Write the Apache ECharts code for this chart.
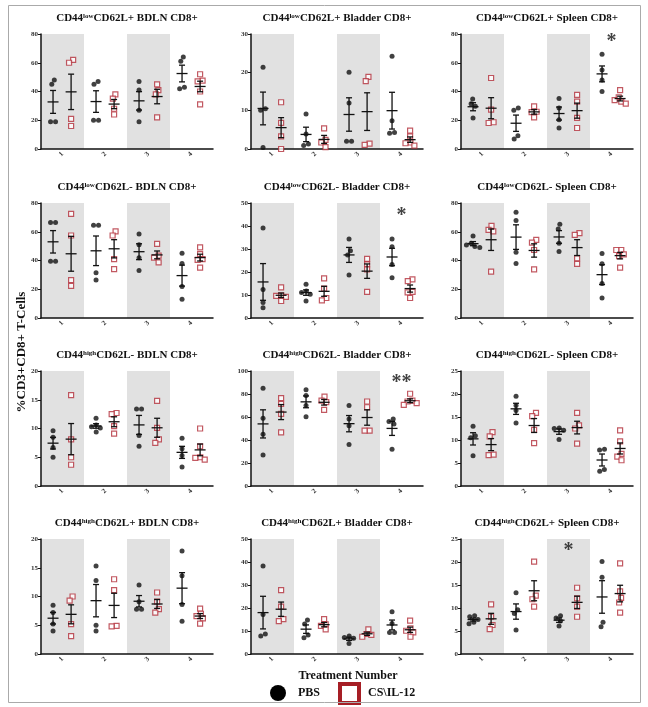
<!DOCTYPE html>
<html lang="en" style="height: 100%">
<head>
  <meta charset="utf-8">
</head>
<body style="height: 100%; margin: 0">
  <div id="container" style="width: 648px; height: 707px"></div>

  <script type="text/javascript" src="https://cdn.jsdelivr.net/npm/echarts@6/dist/echarts.min.js"></script>

  <script type="text/javascript">
    // panel titles: [before superscript, superscript, after]
    var titles = [
      ['CD44', 'low', 'CD62L+ BDLN CD8+'],
      ['CD44', 'low', 'CD62L+ Bladder CD8+'],
      ['CD44', 'low', 'CD62L+ Spleen CD8+'],
      ['CD44', 'low', 'CD62L- BDLN CD8+'],
      ['CD44', 'low', 'CD62L- Bladder CD8+'],
      ['CD44', 'low', 'CD62L- Spleen CD8+'],
      ['CD44', 'high', 'CD62L- BDLN CD8+'],
      ['CD44', 'high', 'CD62L- Bladder CD8+'],
      ['CD44', 'high', 'CD62L- Spleen CD8+'],
      ['CD44', 'high', 'CD62L+ BDLN CD8+'],
      ['CD44', 'high', 'CD62L+ Bladder CD8+'],
      ['CD44', 'high', 'CD62L+ Spleen CD8+']
    ];
    var yMax = [80, 30, 80, 80, 50, 80, 20, 100, 25, 20, 50, 25];
    var yStep = [20, 10, 20, 20, 10, 20, 5, 20, 5, 5, 10, 5];
    var treatments = ['1', '2', '3', '4'];

    // PBS values, per panel, per treatment
    var pbsValues = [
      [[48, 45, 19, 19], [47, 45, 20, 20], [47, 41, 27, 19], [64, 61, 43, 42]],
      [[21.3, 10.5, 10.1, 0.4], [9.1, 3.9, 1.3, 0.9], [20, 12, 2, 2], [24.2, 7.4, 4.3, 4.1]],
      [[34.8, 31.5, 29.7, 21.6], [28.5, 26.9, 9.3, 7], [35.2, 28.5, 20.4, 14.6], [66, 55, 48, 40]],
      [[66.5, 66.5, 39.5, 39.5], [64.5, 64.5, 31.5, 26.5], [58.5, 51, 42, 33], [45, 38, 22, 13]],
      [[39.1, 12.4, 6.7, 4.5], [14.7, 11.7, 11.1, 10.3, 7.4], [34.4, 29.2, 27.4, 18.7], [34.3, 31, 23.3, 17.5]],
      [[57.1, 52, 50.8, 49.7, 49], [73.5, 67.9, 45.7, 38], [65.3, 62, 52, 46.2], [44.8, 37.8, 24, 14]],
      [[9.6, 8.5, 6.7, 5], [11.8, 10.6, 10.3, 10.1, 9.4], [13.4, 13.4, 8.8, 6.9], [8.3, 6.5, 5.3, 3.3]],
      [[85, 59, 45, 27], [83.7, 78.7, 70, 60.3], [70, 58.3, 52.5, 36], [58.3, 56, 54, 32]],
      [[13, 10.9, 10.5, 6.6], [19.5, 17.5, 16.4, 13.7], [12.6, 12.5, 12.1, 10.1], [8, 7.8, 3.6, 3.2]],
      [[8.5, 7.2, 5.2, 4], [15.3, 12.8, 5, 4], [12, 9.1, 7.8, 7.8], [17.9, 13.6, 8.6, 5.7]],
      [[38.3, 17.2, 8.7, 7.8], [14.8, 13, 8.3, 7.1], [7.8, 7.2, 6.8, 4.6], [18.4, 13.3, 9.4, 9.4]],
      [[8.3, 8.1, 7.5, 6.9, 6.6], [13.3, 9.6, 8.8, 5.2], [8.3, 7.8, 7.2, 6.1], [20.1, 16.7, 6.9, 5.9]]
    ];

    // CS\IL-12 values, per panel, per treatment
    var csValues = [
      [[62, 60, 21, 16], [38, 35, 28, 24], [45, 41, 38, 22], [52, 47.5, 47, 40, 31]],
      [[12.2, 6.8, 3.3, 0], [5.4, 2.4, 1.7, 0.5], [18.8, 17.7, 1.4, 1.1], [4.8, 3.3, 1.7, 1.5, 0.9]],
      [[49.4, 27.4, 18.6, 18.1], [29.7, 25.9, 25.7, 22], [37.6, 32.9, 21.6, 14.6], [41, 36, 34, 33, 31.5]],
      [[72.5, 57.4, 26.4, 22.4], [60.2, 57.4, 41, 34], [51.5, 43.4, 42, 38.7], [49.2, 44.5, 41, 40.4, 35]],
      [[13.3, 9.9, 9.6, 9.2, 7.4], [17.2, 12.8, 8.7, 7.7], [25.7, 23.3, 21.1, 11.4], [16.8, 16, 11.4, 11.1, 8.7]],
      [[64.1, 61.3, 60.2, 32.2], [54.3, 52.5, 47.3, 33.8], [59, 57.8, 41.5, 37.6], [47.3, 47.3, 44.3, 43.1, 35]],
      [[15.8, 8.1, 5, 3.7], [12.7, 12.5, 10.4, 9.1], [14.8, 10.1, 8.1, 7.5], [10, 6.9, 5, 4.9, 4.6]],
      [[76.4, 71.4, 62.7, 46.6], [77.8, 74.3, 72.9, 66.2], [73.5, 68.5, 48.1, 48.1], [80.2, 74.3, 73.5, 72, 70.6]],
      [[11.7, 10.8, 6.8, 6.7], [15.9, 15.2, 12.2, 9.3], [15.9, 13.2, 12.5, 9.2], [12.1, 9.7, 7, 6.4, 5.6]],
      [[10, 9.3, 5.2, 3.1], [13, 11.1, 4.9, 4.8], [10.7, 9.1, 7.8, 7.2], [7.9, 7, 6.6, 6.2, 5.3]],
      [[27.8, 20.6, 15.2, 14.3], [15.2, 12.9, 12.2, 10.7], [10.7, 8.7, 8.3, 7.5], [14.5, 11.2, 10.1, 9.4, 7.5]],
      [[10.8, 8.1, 6.3, 5.4], [20.1, 12.7, 11.9, 10.3], [14.4, 12.1, 10.3, 8.1], [19.7, 13.6, 12.2, 11.2, 9]]
    ];

    // significance marks: panel index, treatment, height
    var starPanel = [2, 4, 7, 11];
    var starTreatment = [4, 4, 4, 3];
    var starHeight = [77, 46, 93, 23.2];
    var starText = ['*', '*', '**', '*'];

    var colLeft = [41, 251, 461];
    var rowTop = [34, 203, 371, 539];
    var gridW = 172, gridH = 115;
    var catPx = gridW / 4;
    var serif = '"Liberation Serif", "Times New Roman", serif';
    var red = '#b3303b';

    function mean(a) {
      return a.reduce(function (s, v) { return s + v; }, 0) / a.length;
    }
    function sem(a) {
      var m = mean(a);
      var ss = a.reduce(function (s, v) { return s + (v - m) * (v - m); }, 0);
      return Math.sqrt(ss / (a.length - 1)) / Math.sqrt(a.length);
    }

    // simple beeswarm: horizontal pixel offsets so markers don't overlap
    function swarm(vals, max) {
      var d = 5;
      var pts = vals.slice().sort(function (a, b) { return b - a; }).map(function (v) {
        return { v: v, y: v / max * gridH, x: 0 };
      });
      for (var i = 0; i < pts.length; i++) {
        var pt = pts[i];
        var cands = [0];
        for (var j = 0; j < i; j++) {
          var dy = Math.abs(pts[j].y - pt.y);
          if (dy < d) {
            var w = Math.sqrt(d * d - dy * dy);
            cands.push(pts[j].x - w, pts[j].x + w);
          }
        }
        cands.sort(function (a, b) { return Math.abs(a) - Math.abs(b); });
        for (var k = 0; k < cands.length; k++) {
          var ok = true;
          for (var q = 0; q < i; q++) {
            if (Math.hypot(pts[q].x - cands[k], pts[q].y - pt.y) < d - 0.01) { ok = false; break; }
          }
          if (ok) { pt.x = cands[k]; break; }
        }
      }
      // centre each run of touching points
      var start = 0;
      for (var r = 1; r <= pts.length; r++) {
        if (r === pts.length || pts[r - 1].y - pts[r].y >= d) {
          var run = pts.slice(start, r);
          var mx = mean(run.map(function (o) { return o.x; }));
          run.forEach(function (o) { o.x -= mx; });
          start = r;
        }
      }
      return pts;
    }

    function seg(x1, y1, x2, y2) {
      return { type: 'line', shape: { x1: x1, y1: y1, x2: x2, y2: y2 }, style: { stroke: '#111', lineWidth: 1.3 } };
    }

    // mean line with SEM whiskers
    function renderErr(params, api) {
      var x = api.value(0), m = api.value(1), s = api.value(2);
      var c = api.coord([x, m]);
      var hi = api.coord([x, m + s]);
      var lo = api.coord([x, Math.max(0, m - s)]);
      return {
        type: 'group',
        children: [
          seg(c[0] - 5.5, c[1], c[0] + 5.5, c[1]),
          seg(c[0], hi[1], c[0], lo[1]),
          seg(c[0] - 3, hi[1], c[0] + 3, hi[1]),
          seg(c[0] - 3, lo[1], c[0] + 3, lo[1])
        ]
      };
    }

    var dom = document.getElementById('container');
    var myChart = echarts.init(dom, null, { renderer: 'canvas' });

    var grids = [], xAxes = [], yAxes = [], titleList = [], seriesList = [];

    for (var p = 0; p < 12; p++) {
      var gLeft = colLeft[p % 3];
      var gTop = rowTop[Math.floor(p / 3)];
      grids.push({ left: gLeft, top: gTop, width: gridW, height: gridH });
      titleList.push({
        text: '{a|' + titles[p][0] + '}{s|' + titles[p][1] + '}{a|' + titles[p][2] + '}',
        left: gLeft + gridW / 2,
        top: gTop - 21,
        textAlign: 'center',
        padding: 0,
        textStyle: {
          rich: {
            a: { fontFamily: serif, fontWeight: 'bold', fontSize: 11, color: '#111' },
            s: { fontFamily: serif, fontWeight: 'bold', fontSize: 7, color: '#111', verticalAlign: 'top' }
          }
        }
      });
      xAxes.push({
        type: 'category',
        gridIndex: p,
        data: treatments,
        boundaryGap: true,
        axisLine: { lineStyle: { color: '#111', width: 1.5 } },
        axisTick: { alignWithLabel: true, length: 3, lineStyle: { color: '#111' } },
        axisLabel: { rotate: 45, fontSize: 7, fontWeight: 'bold', fontFamily: serif, color: '#333', margin: 4 },
        splitArea: { show: true, areaStyle: { color: ['#e1e1e1', 'rgba(255,255,255,0)'] } }
      });
      xAxes.push({ type: 'value', gridIndex: p, min: 0.5, max: 4.5, show: false });
      yAxes.push({
        type: 'value',
        gridIndex: p,
        min: 0,
        max: yMax[p],
        interval: yStep[p],
        axisLine: { show: true, lineStyle: { color: '#111', width: 1.5 } },
        axisTick: { show: true, length: 3, lineStyle: { color: '#111' } },
        axisLabel: { fontSize: 7, fontWeight: 'bold', fontFamily: serif, color: '#333', margin: 3 },
        splitLine: { show: false }
      });

      var pbsPts = [], csPts = [], errs = [];
      for (var t = 0; t < 4; t++) {
        var xp = t + 1 - 0.22, xc = t + 1 + 0.2;
        var sp = swarm(pbsValues[p][t], yMax[p]);
        for (var a = 0; a < sp.length; a++) pbsPts.push([xp + sp[a].x / catPx, sp[a].v]);
        var sc = swarm(csValues[p][t], yMax[p]);
        for (var b = 0; b < sc.length; b++) csPts.push([xc + sc[b].x / catPx, sc[b].v]);
        errs.push([xp, mean(pbsValues[p][t]), sem(pbsValues[p][t])]);
        errs.push([xc, mean(csValues[p][t]), sem(csValues[p][t])]);
      }

      seriesList.push({
        name: 'PBS', type: 'scatter', xAxisIndex: 2 * p + 1, yAxisIndex: p,
        symbol: 'circle', symbolSize: 5, itemStyle: { color: '#111' },
        data: pbsPts
      });
      seriesList.push({
        name: 'CS\\IL-12', type: 'scatter', xAxisIndex: 2 * p + 1, yAxisIndex: p,
        symbol: 'rect', symbolSize: 5,
        itemStyle: { color: '#fff', borderColor: red, borderWidth: 1.2 },
        data: csPts
      });
      seriesList.push({
        type: 'custom', xAxisIndex: 2 * p + 1, yAxisIndex: p,
        renderItem: renderErr, data: errs, z: 5, silent: true
      });
    }

    // significance asterisks
    for (var k = 0; k < starPanel.length; k++) {
      var pi = starPanel[k];
      seriesList.push({
        type: 'scatter', xAxisIndex: 2 * pi + 1, yAxisIndex: pi,
        symbolSize: 1, itemStyle: { color: 'rgba(0,0,0,0)' }, silent: true,
        data: [[starTreatment[k], starHeight[k]]],
        label: {
          show: true, position: 'inside', formatter: starText[k], offset: [0, 4],
          fontSize: 20, fontWeight: 'bold', fontFamily: serif, color: '#111'
        }
      });
    }

    var option = {
      backgroundColor: '#fff',
      animation: false,
      title: titleList,
      grid: grids,
      xAxis: xAxes,
      yAxis: yAxes,
      series: seriesList,
      graphic: [
        {
          type: 'text', x: 22, y: 352, rotation: Math.PI / 2,
          style: { text: '%CD3+CD8+ T-Cells', font: 'bold 13px ' + serif, fill: '#111', align: 'center', verticalAlign: 'middle' }
        },
        {
          type: 'text', x: 348, y: 676,
          style: { text: 'Treatment Number', font: 'bold 12px ' + serif, fill: '#111', align: 'center', verticalAlign: 'middle' }
        },
        { type: 'circle', shape: { cx: 278, cy: 693, r: 8 }, style: { fill: '#000' } },
        {
          type: 'text', x: 298, y: 693,
          style: { text: 'PBS', font: 'bold 12px ' + serif, fill: '#111', align: 'left', verticalAlign: 'middle' }
        },
        { type: 'rect', shape: { x: 340, y: 684, width: 19, height: 19 }, style: { fill: '#fff', stroke: '#a61e25', lineWidth: 4 } },
        {
          type: 'text', x: 368, y: 693,
          style: { text: 'CS\\IL-12', font: 'bold 12px ' + serif, fill: '#111', align: 'left', verticalAlign: 'middle' }
        },
        { type: 'rect', shape: { x: 8.5, y: 5.5, width: 632, height: 697 }, style: { fill: 'transparent', stroke: '#aaa', lineWidth: 1 } }
      ]
    };

    myChart.setOption(option);
    window.addEventListener('resize', myChart.resize);
  </script>
</body>
</html>
